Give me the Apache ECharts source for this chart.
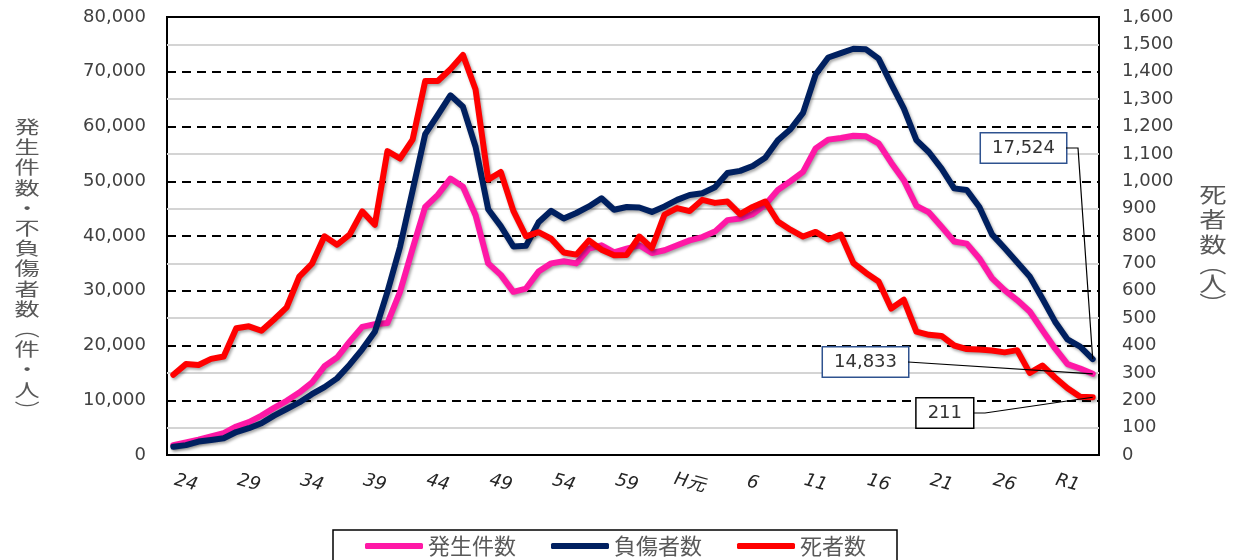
<!DOCTYPE html>
<html>
<head>
<meta charset="utf-8">
<script src="https://cdn.jsdelivr.net/npm/echarts@6/dist/echarts.min.js"></script>
<style>
  html, body { margin: 0; padding: 0; background: #fff; }
  #main { width: 1238px; height: 560px; }
</style>
</head>
<body>
<div id="main"></div>
<script>
// 年（昭和23年～令和3年）
const years = [
  'S23','S24','S25','S26','S27','S28','S29','S30','S31','S32',
  'S33','S34','S35','S36','S37','S38','S39','S40','S41','S42',
  'S43','S44','S45','S46','S47','S48','S49','S50','S51','S52',
  'S53','S54','S55','S56','S57','S58','S59','S60','S61','S62',
  'S63','H元','H2','H3','H4','H5','H6','H7','H8','H9',
  'H10','H11','H12','H13','H14','H15','H16','H17','H18','H19',
  'H20','H21','H22','H23','H24','H25','H26','H27','H28','H29',
  'H30','R1','R2','R3'
];

// 発生件数（件）
const accidents = [
  1800, 2300, 2800, 3400, 4000, 5200, 6000, 7200, 8600, 9900,
  11400, 13200, 16200, 17800, 20700, 23400, 23900, 24100, 29800, 37700,
  45300, 47500, 50500, 49000, 43800, 35000, 32900, 29800, 30400, 33500,
  35000, 35400, 35000, 37700, 38300, 37000, 37700, 38300, 36900, 37400,
  38300, 39200, 39800, 40800, 42900, 43200, 44000, 45700, 48400, 50000,
  51700, 56000, 57600, 57900, 58300, 58200, 56900, 53400, 50200, 45500,
  44300, 41700, 39000, 38600, 35900, 32300, 30100, 28300, 26200, 22800,
  19500, 16600, 15800, 14833
];

// 負傷者数（人）
const injured = [
  1500, 1800, 2450, 2750, 3050, 4200, 4900, 5800, 7200, 8400,
  9600, 11100, 12400, 14000, 16500, 19300, 22500, 29800, 38000, 48300,
  58600, 62100, 65700, 63600, 56300, 44900, 41800, 38100, 38200, 42500,
  44600, 43200, 44200, 45400, 46900, 44800, 45300, 45200, 44400, 45400,
  46600, 47500, 47800, 48900, 51500, 51900, 52800, 54300, 57500, 59500,
  62500, 69500, 72600, 73400, 74200, 74100, 72400, 67800, 63300, 57500,
  55300, 52300, 48700, 48400, 45300, 40300, 37800, 35200, 32600, 28600,
  24400, 21100, 19800, 17524
];

// 死者数（人）
const deaths = [
  293, 332, 329, 351, 360, 463, 470, 454, 495, 539,
  652, 698, 799, 768, 805, 890, 841, 1110, 1083, 1152,
  1366, 1366, 1409, 1461, 1335, 1006, 1034, 892, 799, 814,
  790, 740, 732, 784, 750, 730, 731, 798, 756, 878,
  902, 891, 932, 921, 926, 880, 906, 926, 853, 823,
  798, 815, 787, 805, 701, 665, 634, 535, 567, 451,
  439, 435, 400, 387, 385, 382, 375, 383, 300, 327,
  283, 244, 213, 211
];

const seriesNames = ['発生件数', '負傷者数', '死者数'];
const seriesColors = ['#FF18A6', '#002060', '#FF0000'];

const NUM = '"DejaVu Sans", Verdana, sans-serif';
const JP = '"Noto Sans CJK JP", sans-serif';
const last = years.length - 1;
const fmt = v => Number(v).toLocaleString('en-US');

// 最終年の値ラベル枠の右端・縦中央と、引き出し線の折れ点
const endLabels = [
  { boxRight: 908, midY: 362, border: '#2F528F', elbow: null },
  { boxRight: 1066, midY: 148, border: '#2F528F', elbow: 1078 },
  { boxRight: 973, midY: 413, border: '#000000', elbow: 985 }
];

function makeSeries(idx, values, yAxisIndex) {
  const color = seriesColors[idx];
  const lay = endLabels[idx];
  return {
    name: seriesNames[idx],
    type: 'line',
    yAxisIndex: yAxisIndex,
    symbol: 'none',
    showSymbol: true,
    showAllSymbol: true,
    data: values.map((v, i) => i === last
      ? { value: v, symbol: 'circle', symbolSize: 4, label: { show: true } }
      : v),
    lineStyle: {
      color: color, width: 6, cap: 'round', join: 'round',
      shadowColor: 'rgba(0,0,0,0.35)', shadowBlur: 3, shadowOffsetX: 1.5, shadowOffsetY: 2
    },
    itemStyle: { color: color },
    label: {
      show: false,
      formatter: p => fmt(p.value),
      fontFamily: NUM, fontSize: 18, lineHeight: 20, color: '#333',
      backgroundColor: '#fff', borderColor: lay.border, borderWidth: 1.5,
      padding: [5, 11, 4, 11]
    },
    labelLayout: p => p.dataIndex === last
      ? { x: lay.boxRight, y: lay.midY, align: 'right', verticalAlign: 'middle' }
      : null,
    emphasis: { disabled: true },
    z: 2 + idx
  };
}

const chart = echarts.init(document.getElementById('main'));

chart.setOption({
  animation: false,
  backgroundColor: '#fff',
  grid: {
    left: 167, right: 139, top: 17, bottom: 105,
    show: true, borderColor: '#000', borderWidth: 2, backgroundColor: 'transparent'
  },
  legend: {
    data: seriesNames,
    left: 333, top: 530,
    padding: [5, 31, 7, 32],
    itemGap: 35, itemWidth: 58, itemHeight: 6, icon: 'roundRect',
    borderColor: '#000', borderWidth: 1.5,
    selectedMode: false,
    textStyle: { fontFamily: JP, fontSize: 22, color: '#595959' }
  },
  xAxis: {
    type: 'category',
    data: years,
    boundaryGap: true,
    axisLine: { show: true, lineStyle: { color: '#000', width: 2 } },
    axisTick: { show: false },
    splitLine: { show: false },
    axisLabel: {
      interval: i => i % 5 === 1,
      formatter: v => (v === 'H元' || v.charAt(0) === 'R') ? v : v.slice(1),
      rotate: -15, align: 'center', verticalAlign: 'middle', margin: 28,
      fontFamily: NUM + ', ' + JP, fontStyle: 'italic', fontSize: 18, color: '#262626'
    }
  },
  yAxis: [
    {
      type: 'value', min: 0, max: 80000, interval: 10000, position: 'left',
      axisLine: { show: false }, axisTick: { show: false },
      axisLabel: { formatter: fmt, margin: 21, fontFamily: NUM, fontSize: 18, color: '#404040' },
      splitLine: { show: true, lineStyle: { color: '#000', width: 1.8, type: [9, 6] } },
      minorTick: { show: false, splitNumber: 2 },
      minorSplitLine: { show: true, lineStyle: { color: '#d4d4d4', width: 1.8 } }
    },
    {
      type: 'value', min: 0, max: 1600, interval: 100, position: 'right',
      axisLine: { show: false }, axisTick: { show: false }, splitLine: { show: false },
      axisLabel: { formatter: fmt, margin: 23, fontFamily: NUM, fontSize: 18, color: '#404040' }
    }
  ],
  graphic: [
    {
      type: 'text', id: 'titleLeft', x: 27, y: 117, scaleX: 1.4,
      style: {
        text: ['発','生','件','数','・','不','負','傷','者','数','︵','件','・','人','︶'].join('\n'),
        fontFamily: JP, fontSize: 18, lineHeight: 20.2, fill: '#595959',
        align: 'center', verticalAlign: 'top'
      }
    },
    {
      type: 'text', id: 'titleRight', x: 1213, y: 182, scaleX: 1.3,
      style: {
        text: '{a|死}\n{a|者}\n{a|数}\n{b|︵}\n{a|人}\n{b|︶}',
        fontFamily: JP, fill: '#595959', align: 'center', verticalAlign: 'top',
        rich: {
          a: { fontFamily: JP, fontSize: 21, lineHeight: 25, fill: '#595959', align: 'center' },
          b: { fontFamily: JP, fontSize: 21, lineHeight: 14, fill: '#595959', align: 'center' }
        }
      }
    }
  ],
  series: [
    makeSeries(0, accidents, 0),
    makeSeries(1, injured, 0),
    makeSeries(2, deaths, 1)
  ]
});

// 値ラベルから最終年の点への引き出し線
const leaderSources = [accidents, injured, deaths];
const leaderLines = leaderSources.map((values, idx) => {
  const lay = endLabels[idx];
  const end = chart.convertToPixel({ seriesIndex: idx }, [last, values[last]]);
  const pts = [[lay.boxRight, lay.midY]];
  if (lay.elbow !== null) pts.push([lay.elbow, lay.midY]);
  pts.push(end);
  return {
    type: 'polyline', id: 'leader' + idx, z: 10,
    shape: { points: pts },
    style: { stroke: '#000', lineWidth: 1.2, fill: null }
  };
});
chart.setOption({ graphic: leaderLines });
</script>
</body>
</html>
